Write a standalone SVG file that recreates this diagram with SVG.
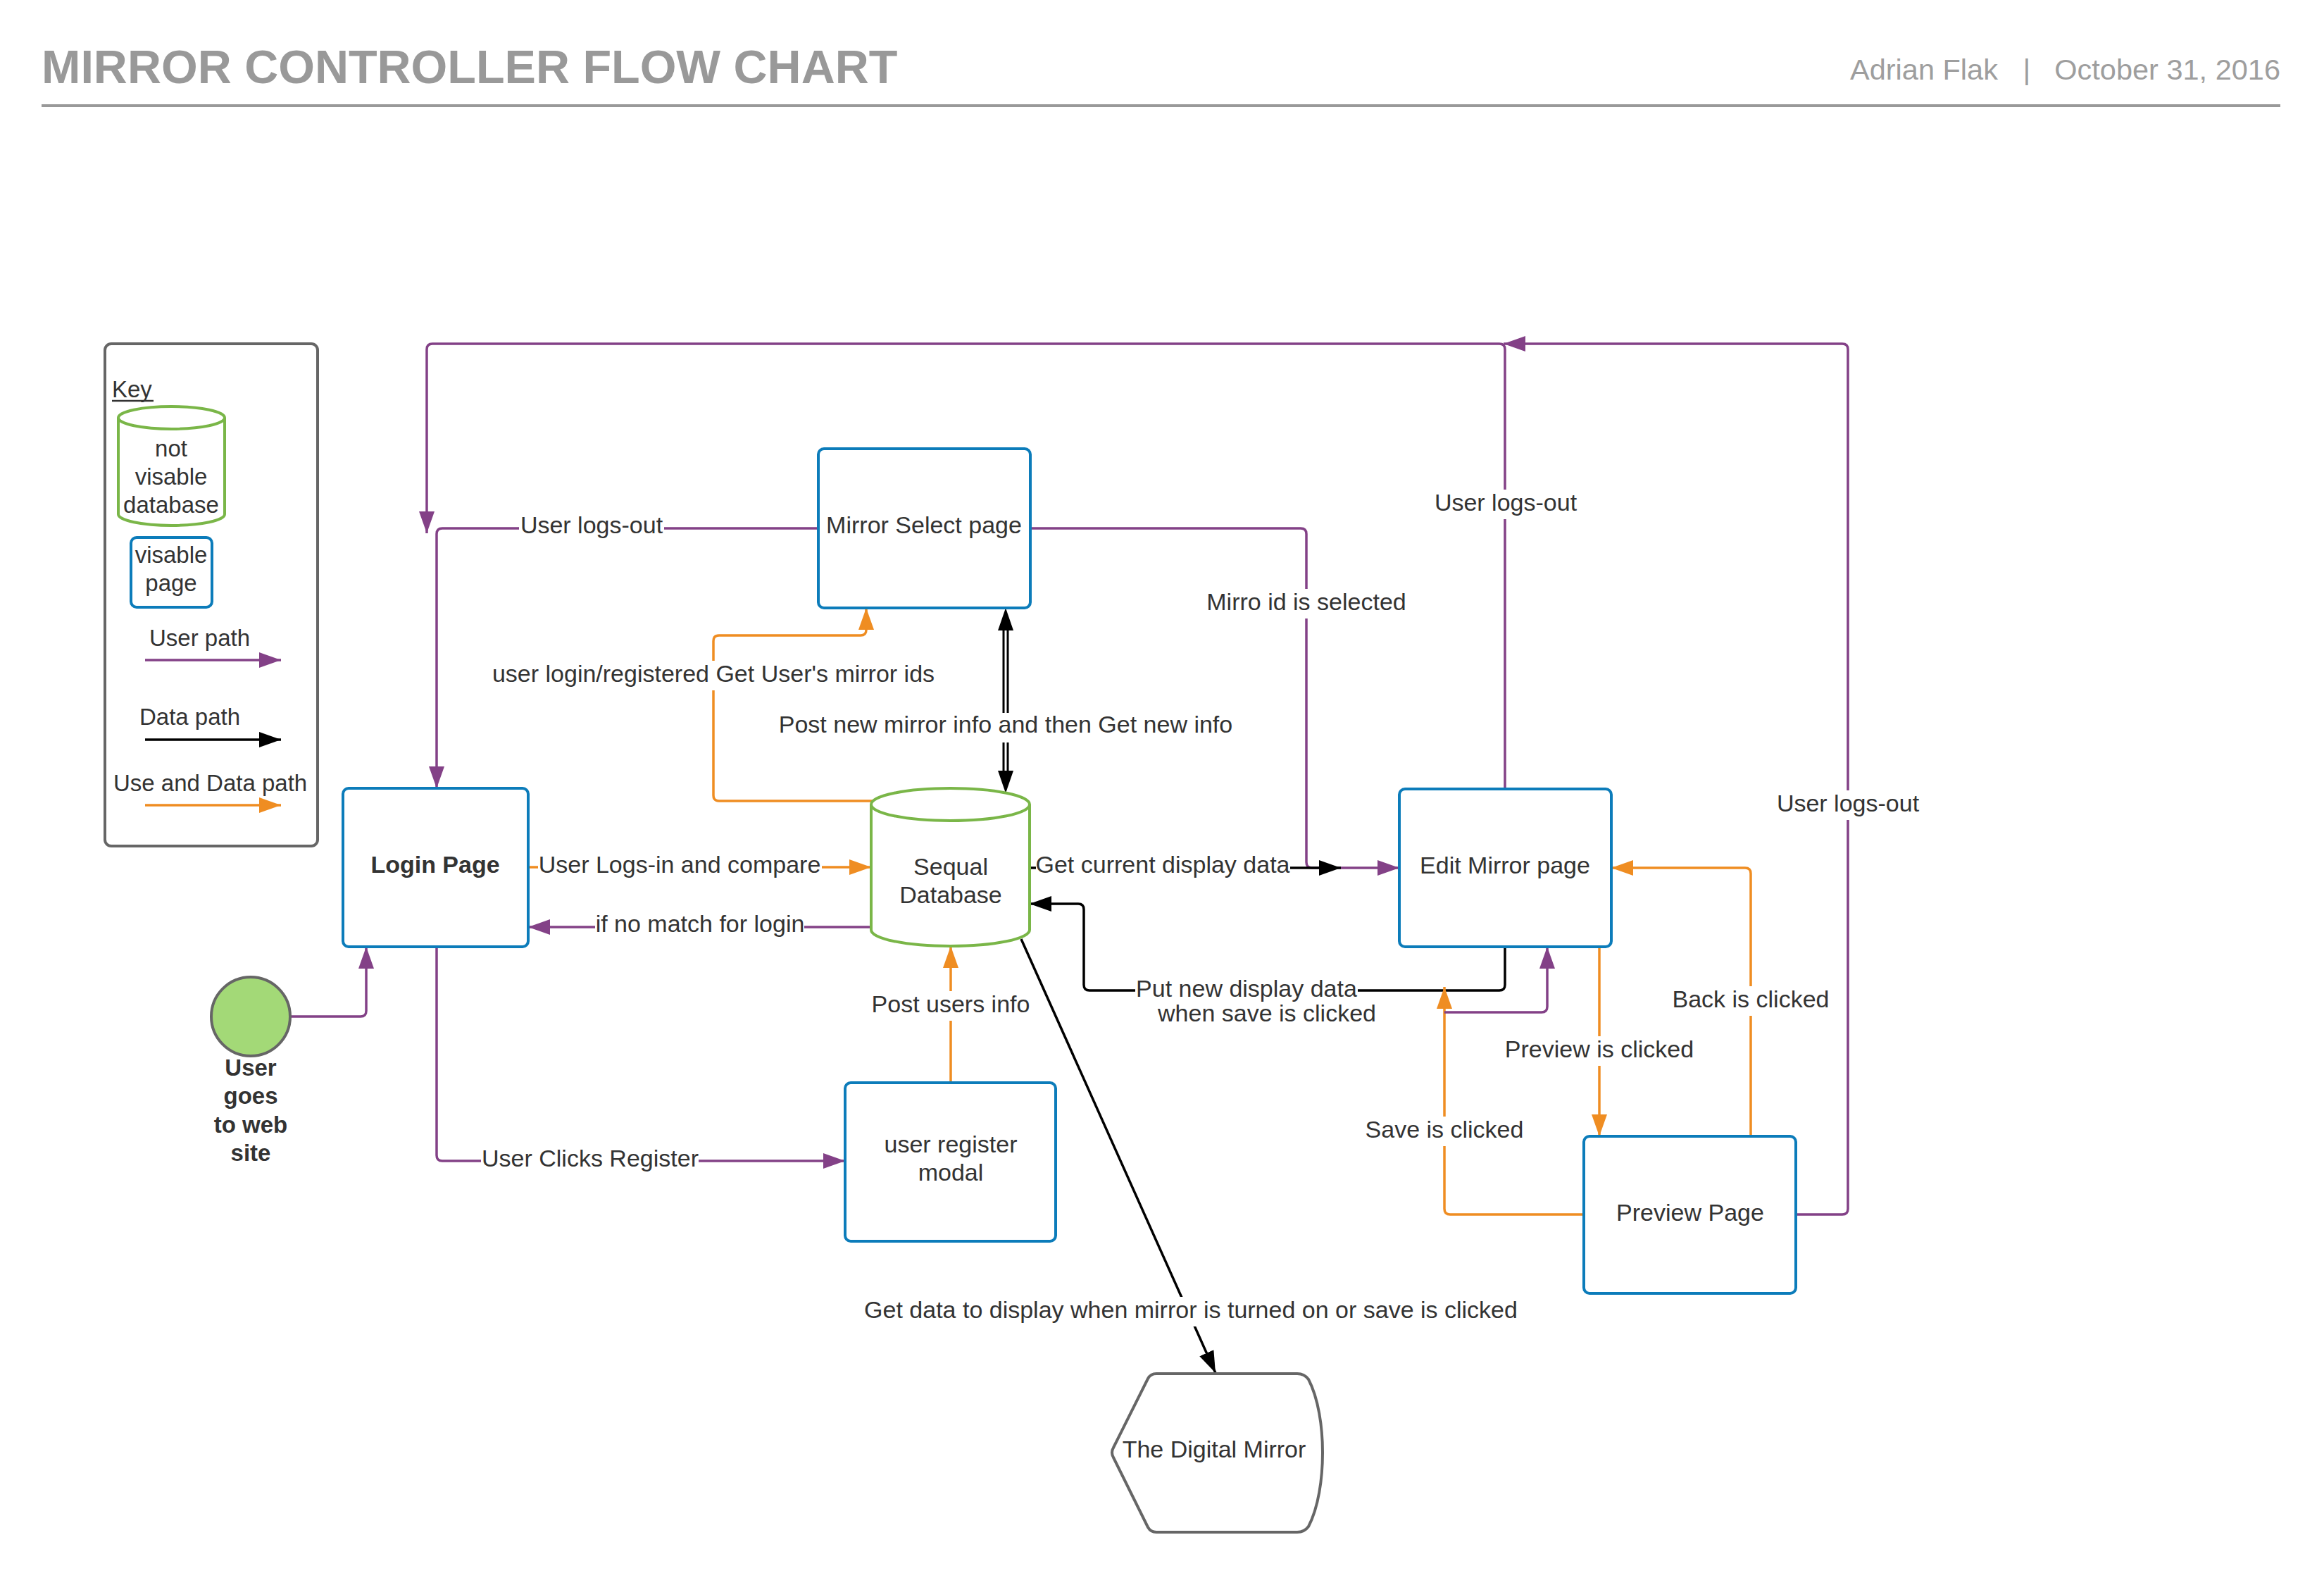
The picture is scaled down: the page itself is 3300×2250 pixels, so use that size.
<svg xmlns="http://www.w3.org/2000/svg" width="3300" height="2250" viewBox="0 0 3300 2250">
<style>
text{font-family:"Liberation Sans",Arial,sans-serif;fill:#333333;font-size:34px}
.c{text-anchor:middle}
.b{font-weight:bold}
.k{font-size:33px}
.page{fill:#ffffff;stroke:#0c7cba;stroke-width:4}
.db{fill:#ffffff;stroke:#7ab648;stroke-width:4}
.gr{fill:#ffffff;stroke:#666666;stroke-width:4}
.pu{fill:none;stroke:#834187;stroke-width:3.5}
.or{fill:none;stroke:#ef8d22;stroke-width:3.5}
.bk{fill:none;stroke:#000000;stroke-width:3.5}
.lb{fill:#ffffff}
</style>
<defs>
<marker id="ap" markerUnits="userSpaceOnUse" markerWidth="32" markerHeight="24" refX="31" refY="12" orient="auto"><path d="M0,1 L31,12 L0,23 Z" fill="#834187"/></marker>
<marker id="ao" markerUnits="userSpaceOnUse" markerWidth="32" markerHeight="24" refX="31" refY="12" orient="auto"><path d="M0,1 L31,12 L0,23 Z" fill="#ef8d22"/></marker>
<marker id="ab" markerUnits="userSpaceOnUse" markerWidth="32" markerHeight="24" refX="31" refY="12" orient="auto"><path d="M0,1 L31,12 L0,23 Z" fill="#000000"/></marker>
</defs>

<g id="header">
<text x="59" y="118" class="b" style="font-size:66.5px;fill:#999999">MIRROR CONTROLLER FLOW CHART</text>
<text x="2627" y="113" style="font-size:41.5px;fill:#9e9e9e">Adrian Flak</text>
<text x="2878" y="113" class="c" style="font-size:41.5px;fill:#9e9e9e">|</text>
<text x="3238" y="113" style="font-size:41.5px;fill:#9e9e9e;text-anchor:end">October 31, 2016</text>
<line x1="59" y1="150" x2="3238" y2="150" stroke="#999999" stroke-width="4"/>
</g>

<g id="key">
<rect x="149" y="488" width="302" height="713" rx="9" fill="#ffffff" stroke="#666666" stroke-width="4"/>
<text x="159" y="564" class="k">Key</text>
<line x1="159" y1="569" x2="218" y2="569" stroke="#333333" stroke-width="2.5"/>
<path class="db" d="M168,593 A75.5,16 0 0 1 319,593 V730 A75.5,16 0 0 1 168,730 Z"/>
<path d="M168,593 A75.5,16 0 0 0 319,593" fill="none" stroke="#7ab648" stroke-width="4"/>
<text x="243" y="648" class="c k">not</text>
<text x="243" y="688" class="c k">visable</text>
<text x="243" y="728" class="c k">database</text>
<rect class="page" x="186" y="763" width="115" height="99" rx="8"/>
<text x="243" y="799" class="c k">visable</text>
<text x="243" y="839" class="c k">page</text>
<text x="212" y="917" class="k">User path</text>
<line x1="206" y1="937" x2="399" y2="937" class="pu" marker-end="url(#ap)"/>
<text x="198" y="1029" class="k">Data path</text>
<line x1="206" y1="1050" x2="399" y2="1050" class="bk" marker-end="url(#ab)"/>
<text x="161" y="1123" class="k">Use and Data path</text>
<line x1="206" y1="1143" x2="399" y2="1143" class="or" marker-end="url(#ao)"/>
</g>

<g id="connectors">
<path class="pu" d="M2137,1120 V496 Q2137,488 2129,488 H614 Q606,488 606,496 V757" marker-end="url(#ap)"/>
<path class="pu" d="M2550,1724 H2616 Q2624,1724 2624,1716 V496 Q2624,488 2616,488 H2135" marker-end="url(#ap)"/>
<path class="pu" d="M1162,750 H628 Q620,750 620,758 V1119" marker-end="url(#ap)"/>
<path class="pu" d="M1463,750 H1847 Q1855,750 1855,758 V1224 Q1855,1232 1863,1232 H1987" marker-end="url(#ap)"/>
<path class="bk" d="M1462,1232 H1904" marker-end="url(#ab)"/>
<path class="or" d="M750,1231 H1237" marker-end="url(#ao)"/>
<path class="pu" d="M1237,1316 H750" marker-end="url(#ap)"/>
<path class="or" d="M1240,1137 H1021 Q1013,1137 1013,1129 V910 Q1013,902 1021,902 H1222 Q1230,902 1230,894 V863" marker-end="url(#ao)"/>
<line x1="1425" y1="890" x2="1425" y2="1100" stroke="#000" stroke-width="3"/>
<line x1="1431" y1="890" x2="1431" y2="1100" stroke="#000" stroke-width="3"/>
<polygon points="1428,863 1417,895 1439,895" fill="#000"/>
<polygon points="1428,1126 1417,1094 1439,1094" fill="#000"/>
<path class="bk" d="M2137,1344 V1398 Q2137,1406 2129,1406 H1547 Q1539,1406 1539,1398 V1291 Q1539,1283 1531,1283 H1462" marker-end="url(#ab)"/>
<path class="or" d="M2249,1724 H2059 Q2051,1724 2051,1716 V1401" marker-end="url(#ao)"/>
<path class="pu" d="M2051,1437 H2189 Q2197,1437 2197,1429 V1344" marker-end="url(#ap)"/>
<path class="or" d="M2271,1344 V1613" marker-end="url(#ao)"/>
<path class="or" d="M2486,1613 V1240 Q2486,1232 2478,1232 H2288" marker-end="url(#ao)"/>
<path class="pu" d="M413,1443 H512 Q520,1443 520,1435 V1344" marker-end="url(#ap)"/>
<path class="pu" d="M620,1344 V1640 Q620,1648 628,1648 H1200" marker-end="url(#ap)"/>
<path class="or" d="M1350,1537 V1343" marker-end="url(#ao)"/>
<path class="bk" d="M1450,1333 L1726,1949" marker-end="url(#ab)"/>
</g>

<g id="labels">
<rect class="lb" x="737" y="727" width="206" height="40"/>
<text x="840" y="757" class="c">User logs-out</text>
<rect class="lb" x="1711" y="836" width="288" height="42"/>
<text x="1855" y="866" class="c">Mirro id is selected</text>
<rect class="lb" x="1471" y="1209" width="361" height="40"/>
<text x="1651" y="1239" class="c">Get current display data</text>
<rect class="lb" x="764" y="1209" width="403" height="40"/>
<text x="965" y="1239" class="c">User Logs-in and compare</text>
<rect class="lb" x="845" y="1293" width="297" height="40"/>
<text x="994" y="1323" class="c">if no match for login</text>
<rect class="lb" x="699" y="938" width="627" height="42"/>
<text x="1013" y="968" class="c">user login/registered Get User's mirror ids</text>
<rect class="lb" x="1108" y="1012" width="642" height="42"/>
<text x="1428" y="1040" class="c">Post new mirror info and then Get new info</text>
<rect class="lb" x="1612" y="1385" width="316" height="40"/>
<text x="1770" y="1415" class="c">Put new display data</text>
<text x="1799" y="1450" class="c">when save is clicked</text>
<rect class="lb" x="1938" y="1585" width="226" height="42"/>
<text x="2051" y="1615" class="c">Save is clicked</text>
<rect class="lb" x="2137" y="1471" width="269" height="42"/>
<text x="2271" y="1501" class="c">Preview is clicked</text>
<rect class="lb" x="2374" y="1400" width="224" height="42"/>
<text x="2486" y="1430" class="c">Back is clicked</text>
<rect class="lb" x="2035" y="695" width="206" height="42"/>
<text x="2138" y="725" class="c">User logs-out</text>
<rect class="lb" x="2521" y="1122" width="206" height="42"/>
<text x="2624" y="1152" class="c">User logs-out</text>
<rect class="lb" x="1236" y="1407" width="228" height="42"/>
<text x="1350" y="1437" class="c">Post users info</text>
<rect class="lb" x="683" y="1626" width="309" height="40"/>
<text x="838" y="1656" class="c">User Clicks Register</text>
<rect class="lb" x="1228" y="1841" width="926" height="42"/>
<text x="1691" y="1871" class="c">Get data to display when mirror is turned on or save is clicked</text>
</g>

<g id="mirror-select">
<rect class="page" x="1162" y="637" width="301" height="226" rx="8"/>
<text x="1312" y="757" class="c">Mirror Select page</text>
</g>
<g id="login">
<rect class="page" x="487" y="1119" width="263" height="225" rx="8"/>
<text x="618" y="1239" class="c b">Login Page</text>
</g>
<g id="database">
<path class="db" d="M1237,1142 A112.5,23 0 0 1 1462,1142 V1320 A112.5,23 0 0 1 1237,1320 Z"/>
<path d="M1237,1142 A112.5,23 0 0 0 1462,1142" fill="none" stroke="#7ab648" stroke-width="4"/>
<text x="1350" y="1242" class="c">Sequal</text>
<text x="1350" y="1282" class="c">Database</text>
</g>
<g id="edit-mirror">
<rect class="page" x="1987" y="1120" width="301" height="224" rx="8"/>
<text x="2137" y="1240" class="c">Edit Mirror page</text>
</g>
<g id="preview">
<rect class="page" x="2249" y="1613" width="301" height="223" rx="8"/>
<text x="2400" y="1733" class="c">Preview Page</text>
</g>
<g id="register">
<rect class="page" x="1200" y="1537" width="299" height="225" rx="8"/>
<text x="1350" y="1636" class="c">user register</text>
<text x="1350" y="1676" class="c">modal</text>
</g>
<g id="digital-mirror">
<path class="gr" d="M1642,1950 H1842 Q1852,1950 1858,1958 C1872,1985 1878,2025 1878,2062 C1878,2100 1872,2140 1858,2167 Q1852,2175 1842,2175 H1642 Q1634,2175 1630,2168 L1581,2069 Q1577,2062 1581,2055 L1630,1957 Q1634,1950 1642,1950 Z"/>
<text x="1724" y="2069" class="c">The Digital Mirror</text>
</g>
<g id="start">
<circle cx="356" cy="1443" r="56" fill="#a3d977" stroke="#666666" stroke-width="4"/>
<text x="356" y="1527" class="c b k">User</text>
<text x="356" y="1567" class="c b k">goes</text>
<text x="356" y="1608" class="c b k">to web</text>
<text x="356" y="1648" class="c b k">site</text>
</g>
</svg>
